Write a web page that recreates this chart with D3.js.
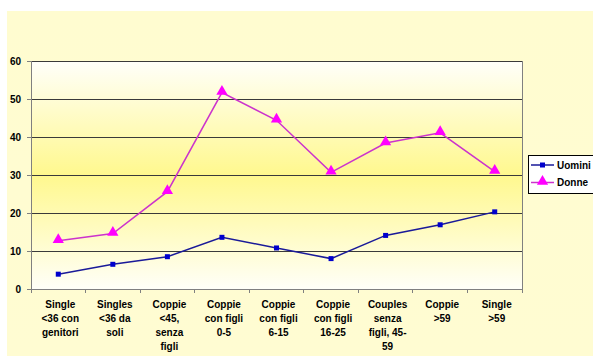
<!DOCTYPE html>
<html><head><meta charset="utf-8">
<script src="https://cdn.jsdelivr.net/npm/d3@7"></script>
<style>body{margin:0;background:#fff}svg{display:block}text{font-family:Arial,"Liberation Sans",sans-serif;font-weight:bold}</style>
</head><body><svg id="c" width="593" height="356"></svg>
<script>
const categories = [
  ["Single","<36 con","genitori"],
  ["Singles","<36 da","soli"],
  ["Coppie","<45,","senza","figli"],
  ["Coppie","con figli","0-5"],
  ["Coppie","con figli","6-15"],
  ["Coppie","con figli","16-25"],
  ["Couples","senza","figli,  45-","59"],
  ["Coppie",">59"],
  ["Single",">59"]
];
const uomini = [3.9, 6.5, 8.5, 13.6, 10.8, 8.0, 14.1, 16.9, 20.3];
const donne = [12.7, 14.6, 25.6, 51.7, 44.4, 30.7, 38.4, 41.1, 30.9];
const yTicks = [0, 10, 20, 30, 40, 50, 60];
const seriesNames = ["Uomini", "Donne"];

const svg = d3.select("#c");
const defs = svg.append("defs");
const og = defs.append("linearGradient").attr("id","outer").attr("x1",0).attr("y1",0).attr("x2",0).attr("y2",1);
og.append("stop").attr("offset","0%").attr("stop-color","#fffcd0");
og.append("stop").attr("offset","100%").attr("stop-color","#fffcd2");
const pg = defs.append("linearGradient").attr("id","plot").attr("x1",0).attr("y1",0).attr("x2",0).attr("y2",1);
pg.append("stop").attr("offset","0%").attr("stop-color","#fffffa");
pg.append("stop").attr("offset","50%").attr("stop-color","#fff88e");
pg.append("stop").attr("offset","100%").attr("stop-color","#fffff8");

svg.append("rect").attr("x",7).attr("y",11).attr("width",586).attr("height",345).attr("fill","url(#outer)");

const pLeft = 31, pRight = 522, pTop = 61, pBottom = 289;
const x = d3.scaleBand().domain(d3.range(categories.length)).range([pLeft, pRight]);
const y = d3.scaleLinear().domain([0, 60]).range([pBottom, pTop]);

svg.append("rect").attr("x",pLeft).attr("y",pTop).attr("width",pRight-pLeft).attr("height",pBottom-pTop).attr("fill","url(#plot)");

// gridlines
svg.append("g").selectAll("line").data(yTicks.filter(d=>d>0)).join("line")
  .attr("x1",pLeft).attr("x2",pRight).attr("y1",d=>y(d)).attr("y2",d=>y(d))
  .attr("stroke","#3a3a3a").attr("stroke-width",1).attr("shape-rendering","crispEdges");
svg.append("line").attr("x1",pRight).attr("x2",pRight).attr("y1",pTop).attr("y2",pBottom).attr("stroke","#808080").attr("shape-rendering","crispEdges");

// y axis
const yAxis = d3.axisLeft(y).tickValues(yTicks).tickSize(4).tickPadding(6);
const gy = svg.append("g").attr("transform",`translate(${pLeft},0)`).call(yAxis);
gy.select(".domain").attr("stroke","#808080").attr("shape-rendering","crispEdges");
gy.selectAll(".tick line").attr("stroke","#808080");
gy.selectAll("text").attr("font-size",10).attr("font-family","Arial, Liberation Sans, sans-serif").attr("font-weight","bold").attr("fill","#000");

// x axis
const xAxis = d3.axisBottom(x).tickSize(0).tickFormat("");
const gx = svg.append("g").attr("transform",`translate(0,${pBottom})`).call(xAxis);
gx.select(".domain").attr("stroke","#808080").attr("shape-rendering","crispEdges");
gx.selectAll(".tick").remove();
const bounds = d3.range(categories.length+1).map(i => pLeft + i*x.step());
svg.append("g").selectAll("line").data(bounds).join("line")
  .attr("x1",d=>d).attr("x2",d=>d).attr("y1",pBottom).attr("y2",pBottom+4)
  .attr("stroke","#808080").attr("shape-rendering","crispEdges");

const lab = svg.append("g");
categories.forEach((lines,i)=>{
  const t = lab.append("text").attr("text-anchor","middle").attr("font-size",10).attr("fill","#000")
    .attr("x", x(i)+x.bandwidth()/2 + 2);
  lines.forEach((s,j)=>{
    t.append("tspan").attr("x", x(i)+x.bandwidth()/2 + 2).attr("y", 307.5 + j*14.3).text(s);
  });
});

const cx = i => x(i) + x.bandwidth()/2;
const line = d3.line().x((d,i)=>cx(i)).y(d=>y(d));

svg.append("path").datum(uomini).attr("d",line).attr("fill","none").attr("stroke","#1a1a99").attr("stroke-width",1.5);
svg.append("path").datum(donne).attr("d",line).attr("fill","none").attr("stroke","#cc33cc").attr("stroke-width",1.5);

svg.append("g").selectAll("rect").data(uomini).join("rect")
  .attr("x",(d,i)=>cx(i)-2.5).attr("y",d=>y(d)-2.5).attr("width",5).attr("height",5).attr("fill","#0000cc");
const tri = d3.symbol().type(d3.symbolTriangle).size(55);
svg.append("g").selectAll("path").data(donne).join("path")
  .attr("transform",(d,i)=>`translate(${cx(i)},${y(d)-1})`).attr("d",tri).attr("fill","#ff00ff");

// legend
const lg = svg.append("g");
lg.append("rect").attr("x",528.5).attr("y",155.5).attr("width",70).attr("height",38).attr("fill","#fff").attr("stroke","#000").attr("stroke-width",1);
const colors = [["#1a1a99","#0000cc"],["#cc33cc","#ff00ff"]];
seriesNames.forEach((n,i)=>{
  const yy = 165 + i*17.5;
  lg.append("line").attr("x1",531).attr("x2",554).attr("y1",yy).attr("y2",yy).attr("stroke",colors[i][0]).attr("stroke-width",1.5);
  if(i===0) lg.append("rect").attr("x",540).attr("y",yy-2.5).attr("width",5).attr("height",5).attr("fill",colors[i][1]);
  else lg.append("path").attr("transform",`translate(542.5,${yy-1})`).attr("d",tri).attr("fill",colors[i][1]);
  lg.append("text").attr("x",557).attr("y",yy+3.5).attr("font-size",10).attr("fill","#000").text(n);
});
</script></body></html>
